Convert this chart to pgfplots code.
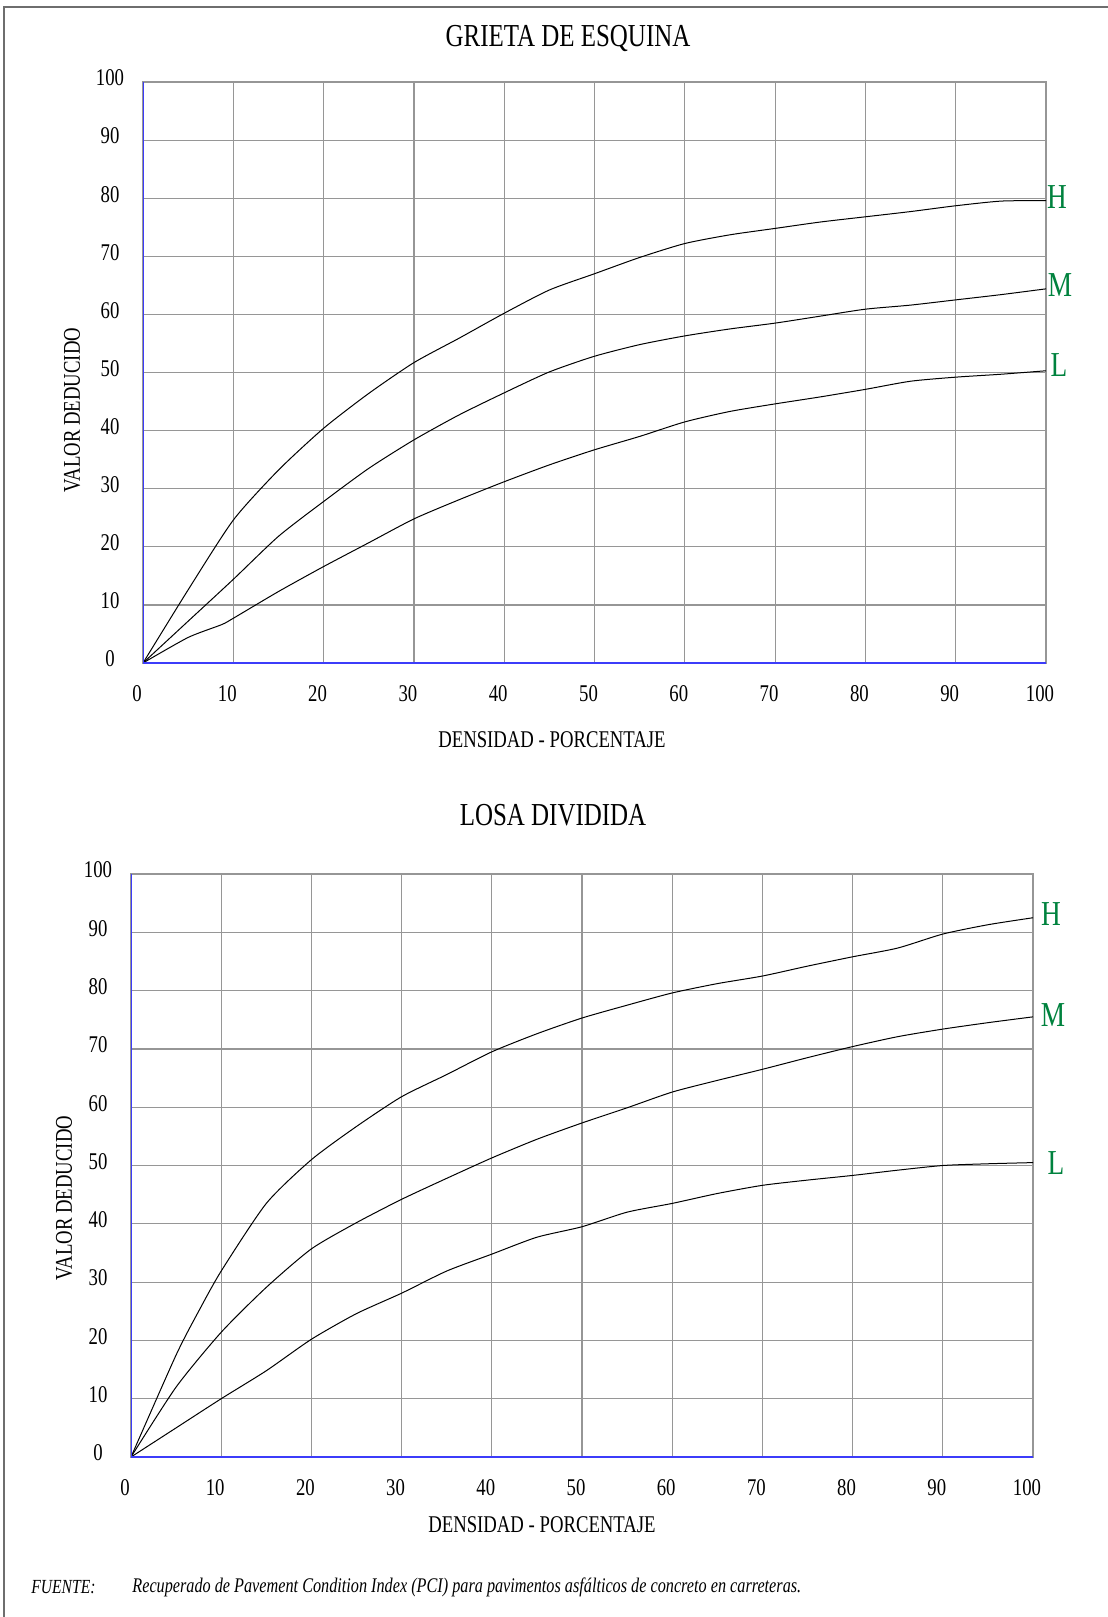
\documentclass[border=0pt]{standalone}
\usepackage{fontspec}
\setmainfont{Liberation Serif}[FakeStretch=0.78]
\usepackage{pgfplots}
\pgfplotsset{compat=1.18}
\definecolor{gridc}{RGB}{150,150,150}
\definecolor{axblue}{RGB}{60,60,250}
\definecolor{lblgreen}{RGB}{0,130,62}
\definecolor{framec}{RGB}{110,110,110}
\pgfplotsset{myax/.style={
  scale only axis,
  xmin=0,xmax=100,ymin=0,ymax=100,
  xtick={0,10,...,100}, ytick={0,10,...,100},
  grid=major, grid style={gridc, line width=0.6pt},
  axis line style={gridc, line width=0.6pt},
  major tick length=0pt,
  tick label style={font=\fontsize{12}{14}\selectfont},
  /pgf/number format/assume math mode=true,
  xticklabel style={anchor=center, yshift=-15.5pt, xshift=-3pt},
  yticklabel style={anchor=center, xshift=-16.5pt, yshift=2pt},
  cycle list={{black},{black},{black}},
  every axis plot post/.append style={black, line width=0.5pt, smooth, tension=0.4, mark=none},
}}
\begin{document}
\begin{tikzpicture}[x=0.5pt,y=0.5pt]
\path[use as bounding box] (0,0) rectangle (1108,-1617);
\draw[line width=1pt, framec] (4,-1617) -- (4,-7) -- (1108,-7);

% ---------- GRIETA DE ESQUINA ----------
\node[font=\fontsize{16}{18}\selectfont] at (568,-38) {GRIETA DE ESQUINA};
\begin{axis}[myax, at={(71.5pt,-331.5pt)}, anchor=south west, width=451.5pt, height=290.5pt]
\addplot coordinates {(0,0)(5,12.6)(10,24.6)(15,33.2)(20,40.4)(25,46.4)(30,51.7)(35,55.9)(40,60.2)(45,64.2)(50,67.0)(55,69.8)(60,72.2)(65,73.7)(70,74.8)(75,75.9)(80,76.8)(85,77.7)(90,78.7)(95,79.5)(100,79.6)};
\addplot coordinates {(0,0)(5,7.2)(10,14.4)(15,21.8)(20,27.8)(25,33.5)(30,38.4)(35,42.7)(40,46.5)(45,50.1)(50,52.8)(55,54.8)(60,56.3)(65,57.5)(70,58.5)(75,59.7)(80,60.9)(85,61.6)(90,62.5)(95,63.4)(100,64.4)};
\addplot coordinates {(0,0)(5,4.4)(8.7,6.6)(10,7.7)(15,12.3)(20,16.6)(25,20.7)(30,24.8)(35,28.1)(40,31.2)(45,34.1)(50,36.7)(55,39.0)(60,41.5)(65,43.3)(70,44.6)(75,45.8)(80,47.1)(85,48.5)(90,49.2)(95,49.7)(100,50.3)};
\draw[axblue, line width=0.8pt] (rel axis cs:0,1) -- (rel axis cs:0,0) -- (rel axis cs:1,0);
\end{axis}
\node[font=\fontsize{12}{14}\selectfont, rotate=90] at (72,-410) {VALOR DEDUCIDO};
\node[font=\fontsize{12}{14}\selectfont] at (552,-740) {DENSIDAD - PORCENTAJE};
\node[font=\fontsize{17.5}{20}\selectfont, text=lblgreen, inner sep=0pt] at (1057,-197) {H};
\node[font=\fontsize{17.5}{20}\selectfont, text=lblgreen, inner sep=0pt] at (1060,-285) {M};
\node[font=\fontsize{17.5}{20}\selectfont, text=lblgreen, inner sep=0pt] at (1059,-365) {L};

% ---------- LOSA DIVIDIDA ----------
\node[font=\fontsize{16}{18}\selectfont] at (553,-815) {LOSA DIVIDIDA};
\begin{axis}[myax, at={(65.5pt,-728.5pt)}, anchor=south west, width=451pt, height=291.5pt]
\addplot coordinates {(0,0)(5,17.5)(7.5,25.0)(10,31.9)(15,43.5)(20,51.0)(25,56.7)(30,61.8)(35,65.6)(40,69.5)(45,72.6)(50,75.3)(55,77.5)(60,79.6)(65,81.2)(70,82.5)(75,84.2)(80,85.8)(85,87.3)(90,89.7)(95,91.3)(100,92.5)};
\addplot coordinates {(0,0)(5,12.0)(10,21.4)(15,29.1)(20,35.7)(25,40.2)(30,44.2)(35,47.8)(40,51.3)(45,54.5)(50,57.3)(55,59.9)(60,62.6)(65,64.6)(70,66.5)(75,68.5)(80,70.4)(85,72.1)(90,73.4)(95,74.5)(100,75.5)};
\addplot coordinates {(0,0)(5,5.0)(10,10.0)(15,14.8)(20,20.2)(25,24.6)(30,28.1)(35,31.9)(40,34.8)(45,37.7)(50,39.5)(55,42.0)(60,43.5)(65,45.2)(70,46.6)(75,47.5)(80,48.3)(85,49.2)(90,50.0)(95,50.3)(100,50.5)};
\draw[axblue, line width=0.8pt] (rel axis cs:0,1) -- (rel axis cs:0,0) -- (rel axis cs:1,0);
\end{axis}
\node[font=\fontsize{12}{14}\selectfont, rotate=90] at (64,-1198) {VALOR DEDUCIDO};
\node[font=\fontsize{12}{14}\selectfont] at (542,-1525) {DENSIDAD - PORCENTAJE};
\node[font=\fontsize{17.5}{20}\selectfont, text=lblgreen, inner sep=0pt] at (1051,-914) {H};
\node[font=\fontsize{17.5}{20}\selectfont, text=lblgreen, inner sep=0pt] at (1053,-1015) {M};
\node[font=\fontsize{17.5}{20}\selectfont, text=lblgreen, inner sep=0pt] at (1056,-1163) {L};

% ---------- footnote ----------
\node[font=\fontsize{10}{12}\selectfont\itshape, anchor=west, inner sep=0pt] at (31,-1587) {FUENTE:};
\node[font=\fontsize{10.4}{12}\selectfont\itshape, anchor=west, inner sep=0pt] at (132,-1587) {Recuperado de Pavement Condition Index (PCI) para pavimentos asfálticos de concreto en carreteras.};
\end{tikzpicture}
\end{document}
